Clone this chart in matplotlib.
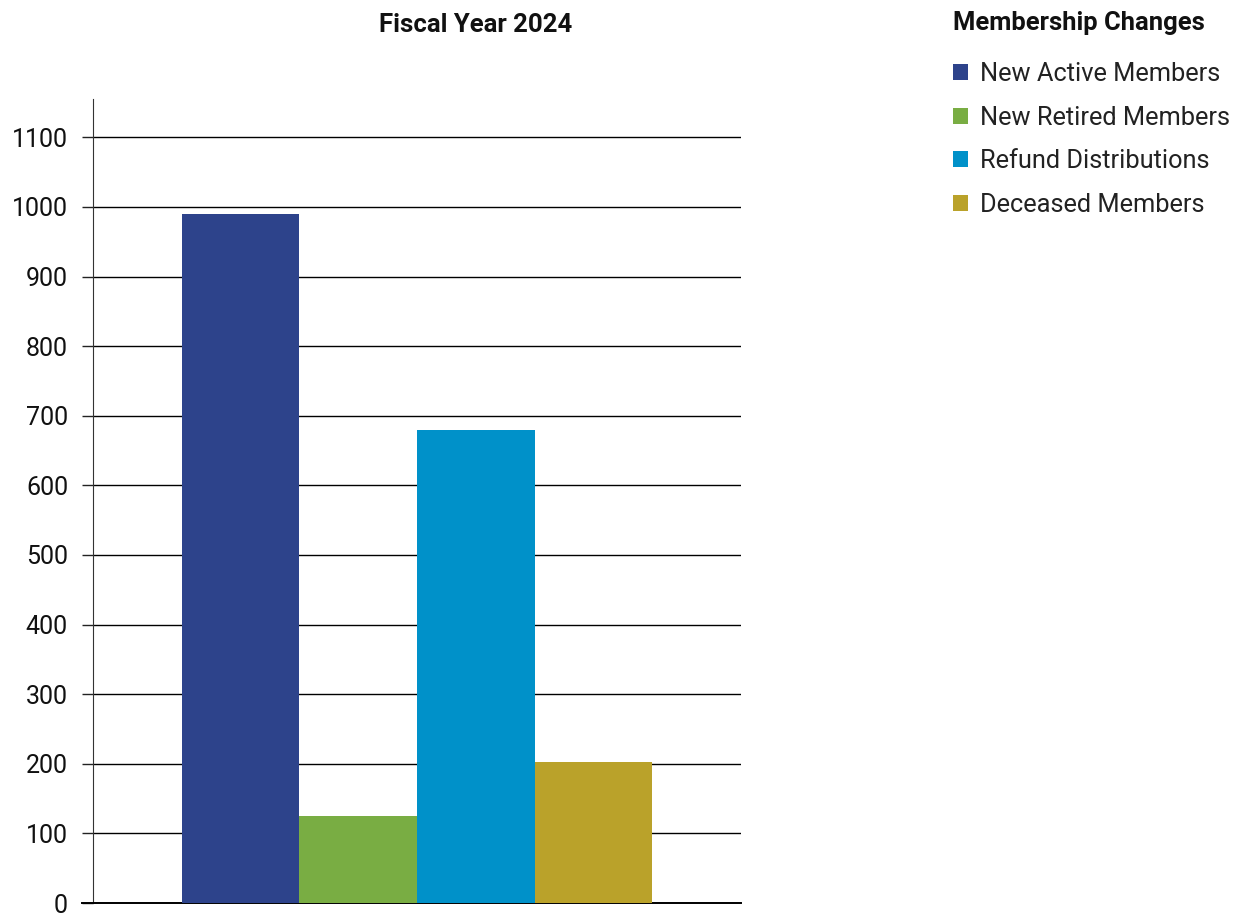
import matplotlib.pyplot as plt
from matplotlib.patches import Patch

categories = ['New Active Members', 'New Retired Members', 'Refund Distributions', 'Deceased Members']
values = [990, 125, 680, 203]
colors = ['#2d438b', '#79ad43', '#0091c9', '#baa22a']
yticks = list(range(0, 1101, 100))

plt.rcParams['font.family'] = ['Roboto', 'DejaVu Sans']

W, H = 1238, 913
fig = plt.figure(figsize=(W / 100, H / 100), dpi=100)
ax = fig.add_axes([93 / W, 10 / H, (741 - 93) / W, (903 - 99) / H])

x = list(range(len(categories)))
ax.bar(x, values, width=1.0, color=colors, zorder=3)

ax.set_xlim(-1.257, 4.257)
ax.set_ylim(0, 1155)
ax.set_yticks(yticks)
ax.set_xticks([])
ax.yaxis.grid(True, color='black', linewidth=1.0, zorder=0)
ax.set_axisbelow(True)
ax.tick_params(axis='y', direction='out', length=8, width=1.0, pad=10, labelsize=18, colors='#222222')
ax.tick_params(axis='y', labelcolor='#111111')

for s in ['top', 'right']:
    ax.spines[s].set_visible(False)
ax.spines['left'].set_color('#333333')
ax.spines['bottom'].set_color('black')
ax.spines['bottom'].set_linewidth(1.4)
ax.spines['bottom'].set_bounds(-1.257 - 0.09, 4.257)
ax.spines['bottom'].set_clip_on(False)

fig.text(476 / W, 1 - 25 / H, 'Fiscal Year 2024', ha='center', va='center',
         fontsize=18.5, fontweight='bold', color='#111111')
fig.text(953 / W, 1 - 23 / H, 'Membership Changes', ha='left', va='center',
         fontsize=18.4, fontweight='bold', color='#111111')

handles = [Patch(facecolor=c, edgecolor='none') for c in colors]
leg = fig.legend(handles, categories, loc='upper left', bbox_to_anchor=(953 / W, 1 - 62 / H),
                 frameon=False, fontsize=18.3, borderpad=0, borderaxespad=0,
                 handlelength=0.6, handleheight=0.6,
                 handletextpad=0.47, labelspacing=0.77)
for t in leg.get_texts():
    t.set_color('#222222')

fig.savefig('out.png', dpi=100)
